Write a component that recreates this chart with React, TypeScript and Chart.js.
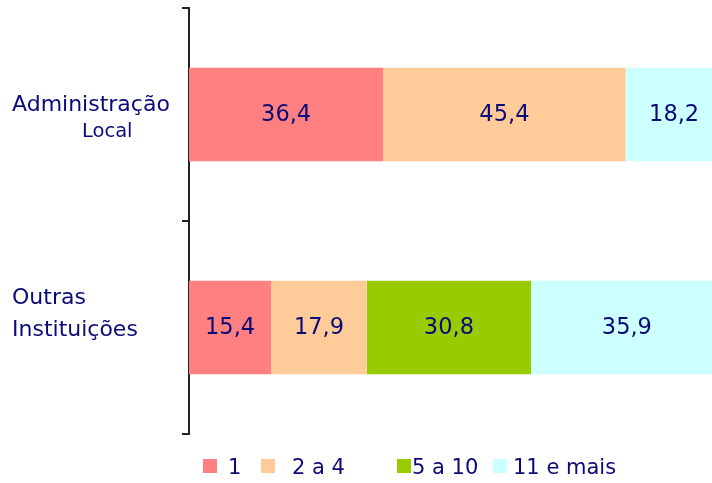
import React, { useEffect, useRef } from "react";
import { Chart, registerables } from "chart.js";

Chart.register(...registerables);

const categories = ["Administração|Local", "Outras|Instituições"];
const seriesNames = ["1", "2 a 4", "5 a 10", "11 e mais"];
const seriesColors = ["#FF8080", "#FFCC99", "#99CC00", "#CCFFFF"];
const values1 = [36.4, 15.4];
const values2to4 = [45.4, 17.9];
const values5to10 = [0, 30.8];
const values11plus = [18.2, 35.9];
const xMax = 98;

const NAVY = "#0a0a78";
const FONT = "DejaVu Sans";

// label line offsets relative to category center (layout only)
const labelLayout = [
  [{ dx: 12, dy: -9 }, { dx: 82, dy: 17 }],
  [{ dx: 12, dy: -29 }, { dx: 12, dy: 3 }],
];
const legendX = [203, 261, 397, 493];
const legendTextGap = [25, 31, 15, 20];

export default function App() {
  const ref = useRef<HTMLCanvasElement>(null);
  useEffect(() => {
    document.body.style.margin = "0";
    const all = [values1, values2to4, values5to10, values11plus];
    const plugin = {
      id: "custom",
      afterDatasetsDraw(chart: any) {
        const ctx = chart.ctx;
        ctx.save();
        // value labels
        ctx.font = `22.5px "${FONT}"`;
        ctx.fillStyle = NAVY;
        ctx.textAlign = "center";
        ctx.textBaseline = "middle";
        chart.data.datasets.forEach((ds: any, di: number) => {
          const meta = chart.getDatasetMeta(di);
          meta.data.forEach((el: any, i: number) => {
            const v = ds.data[i];
            if (!v) return;
            const cx = (el.x + el.base) / 2;
            ctx.fillText(v.toFixed(1).replace(".", ","), cx, el.y + 1);
          });
        });
        // category labels
        const ys = chart.scales.y;
        ctx.textAlign = "left";
        categories.forEach((c, i) => {
          const cy = ys.getPixelForValue(i);
          c.split("|").forEach((line, li) => {
            const l = labelLayout[i][li];
            ctx.font = li === 1 && i === 0 ? `19.5px "${FONT}"` : `22px "${FONT}"`;
            ctx.fillText(line, l.dx, cy + l.dy);
          });
        });
        // legend
        ctx.font = `21px "${FONT}"`;
        seriesNames.forEach((n, i) => {
          ctx.fillStyle = seriesColors[i];
          ctx.fillRect(legendX[i], 459, 14, 14);
          ctx.fillStyle = NAVY;
          ctx.fillText(n, legendX[i] + legendTextGap[i], 469);
        });
        ctx.restore();
      },
    };
    const chart = new Chart(ref.current!, {
      type: "bar",
      data: {
        labels: categories,
        datasets: seriesNames.map((n, i) => ({
          label: n,
          data: all[i],
          backgroundColor: seriesColors[i],
          borderWidth: 0,
          barPercentage: 0.44,
          categoryPercentage: 1,
        })),
      },
      options: {
        indexAxis: "y",
        animation: false,
        responsive: false,
        maintainAspectRatio: false,
        layout: { padding: { left: 0, right: 0, top: 8, bottom: 49 } },
        plugins: { legend: { display: false }, tooltip: { enabled: false } },
        scales: {
          x: { stacked: true, min: 0, max: xMax, display: false },
          y: {
            stacked: true,
            grid: { offset: true, drawOnChartArea: false, tickLength: 7, color: "#222", lineWidth: 2 },
            border: { color: "#222", width: 2 },
            ticks: { display: false },
            afterFit: (s: any) => { s.width = 189; },
          },
        },
      },
      plugins: [plugin],
    } as any);
    return () => chart.destroy();
  }, []);
  return (
    <div style={{ position: "absolute", left: 0, top: 0, width: 712, height: 483, background: "#fff" }}>
      <canvas ref={ref} width={712} height={483} />
    </div>
  );
}
